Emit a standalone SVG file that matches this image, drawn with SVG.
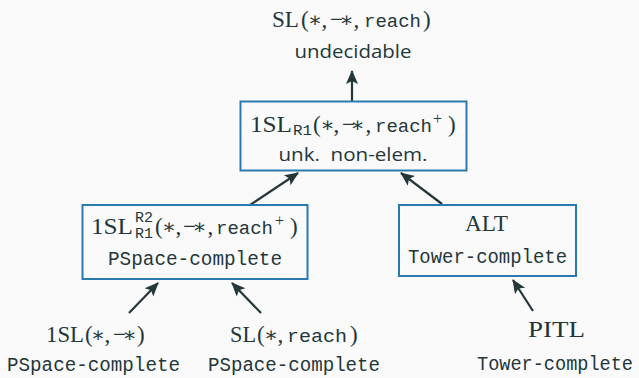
<svg xmlns="http://www.w3.org/2000/svg" width="639" height="378" viewBox="0 0 639 378">
<defs>
<marker id="ah" markerUnits="userSpaceOnUse" markerWidth="16" markerHeight="16" viewBox="0 0 16 16" refX="14" refY="8" orient="auto">
<path d="M1,2 L15,8 L1,14 L4,8 Z" fill="#23373b"/>
</marker>
<style>
.bg{fill:#fafafa}
.box{fill:#fafafa;stroke:#2a7ab0;stroke-width:2}
.m{font-family:"Liberation Serif","DejaVu Serif",serif;font-size:23px;fill:#23373b}
.st{font-family:"DejaVu Serif",serif;font-size:21px;fill:#23373b;text-anchor:middle}
.tt{font-family:"Liberation Mono","DejaVu Sans Mono",monospace;font-size:19px;fill:#23373b}
.sm{font-family:"Liberation Mono","DejaVu Sans Mono",monospace;font-size:14px;fill:#23373b}
.sup{font-family:"Liberation Serif","DejaVu Serif",serif;font-size:16px;fill:#23373b}
.sf{font-family:"Open Sans","Noto Sans",sans-serif;font-size:19px;fill:#23373b;white-space:pre}
.lbl{font-family:"Liberation Mono","DejaVu Sans Mono",monospace;font-size:20px;fill:#23373b}
.ar{stroke:#23373b;stroke-width:2.2;fill:none;marker-end:url(#ah)}
</style>
</defs>
<rect class="bg" x="0" y="0" width="639" height="378"/>

<g id="connectors">
<line class="ar" x1="352" y1="101" x2="352" y2="71"/>
<line class="ar" x1="250" y1="205" x2="298" y2="173"/>
<line class="ar" x1="442" y1="204" x2="401" y2="173"/>
<line class="ar" x1="129" y1="313" x2="158" y2="283"/>
<line class="ar" x1="261" y1="313" x2="232" y2="283"/>
<line class="ar" x1="533" y1="311" x2="513" y2="280"/>
</g>

<g id="n_sl_top">
<text class="m" x="272" y="27" textLength="27" lengthAdjust="spacingAndGlyphs">SL</text>
<text class="m" y="27"><tspan x="301">(</tspan><tspan x="321.5">,</tspan><tspan x="330">−</tspan><tspan x="353.5">,</tspan></text>
<text class="st" y="27"><tspan x="315">∗</tspan><tspan x="346.5">∗</tspan></text>
<text class="tt" x="364" y="27" textLength="57" lengthAdjust="spacingAndGlyphs">reach</text>
<text class="m" x="423" y="27">)</text>
<text class="sf" x="353" y="58" text-anchor="middle" textLength="117" lengthAdjust="spacingAndGlyphs">undecidable</text>
</g>

<g id="n_r1">
<rect class="box" x="240.5" y="101.5" width="226" height="69"/>
<text class="m" x="250" y="132" textLength="42" lengthAdjust="spacingAndGlyphs">1SL</text>
<text class="sm" x="293" y="135" textLength="19" lengthAdjust="spacingAndGlyphs">R1</text>
<text class="m" y="132"><tspan x="313">(</tspan><tspan x="333.5">,</tspan><tspan x="342">−</tspan><tspan x="365.5">,</tspan></text>
<text class="st" y="132"><tspan x="327.5">∗</tspan><tspan x="357.5">∗</tspan></text>
<text class="tt" x="375" y="132" textLength="57" lengthAdjust="spacingAndGlyphs">reach</text>
<text class="sup" x="433" y="124">+</text>
<text class="m" x="448" y="132">)</text>
<text class="sf" x="353" y="161" text-anchor="middle" textLength="149" lengthAdjust="spacingAndGlyphs">unk.  non-elem.</text>
</g>

<g id="n_r2">
<rect class="box" x="82.5" y="205" width="225" height="74"/>
<text class="m" x="91" y="234" textLength="42" lengthAdjust="spacingAndGlyphs">1SL</text>
<text class="sm" x="135" y="222" textLength="18" lengthAdjust="spacingAndGlyphs">R2</text>
<text class="sm" x="135" y="238" textLength="18" lengthAdjust="spacingAndGlyphs">R1</text>
<text class="m" y="234"><tspan x="155">(</tspan><tspan x="175.5">,</tspan><tspan x="183">−</tspan><tspan x="207.5">,</tspan></text>
<text class="st" y="234"><tspan x="169">∗</tspan><tspan x="199.5">∗</tspan></text>
<text class="tt" x="216" y="234" textLength="57" lengthAdjust="spacingAndGlyphs">reach</text>
<text class="sup" x="275" y="226">+</text>
<text class="m" x="290" y="234">)</text>
<text class="lbl" x="108" y="265" textLength="174" lengthAdjust="spacingAndGlyphs">PSpace-complete</text>
</g>

<g id="n_alt">
<rect class="box" x="399" y="205" width="177" height="71"/>
<text class="m" x="465" y="231" textLength="43" lengthAdjust="spacingAndGlyphs">ALT</text>
<text class="lbl" x="408" y="263" textLength="159" lengthAdjust="spacingAndGlyphs">Tower-complete</text>
</g>

<g id="n_1sl">
<text class="m" x="46" y="342" textLength="38" lengthAdjust="spacingAndGlyphs">1SL</text>
<text class="m" y="342"><tspan x="85">(</tspan><tspan x="104.5">,</tspan><tspan x="113">−</tspan><tspan x="137">)</tspan></text>
<text class="st" y="342"><tspan x="98">∗</tspan><tspan x="129.5">∗</tspan></text>
<text class="lbl" x="7" y="371" textLength="173" lengthAdjust="spacingAndGlyphs">PSpace-complete</text>
</g>

<g id="n_slreach">
<text class="m" x="230" y="342" textLength="26" lengthAdjust="spacingAndGlyphs">SL</text>
<text class="m" y="342"><tspan x="257">(</tspan><tspan x="277.5">,</tspan></text>
<text class="st" x="271" y="342">∗</text>
<text class="tt" x="287" y="342" textLength="60" lengthAdjust="spacingAndGlyphs">reach</text>
<text class="m" x="350" y="342">)</text>
<text class="lbl" x="208" y="371" textLength="172" lengthAdjust="spacingAndGlyphs">PSpace-complete</text>
</g>

<g id="n_pitl">
<text class="m" x="528" y="337" textLength="57" lengthAdjust="spacingAndGlyphs">PITL</text>
<text class="lbl" x="477" y="370" textLength="156" lengthAdjust="spacingAndGlyphs">Tower-complete</text>
</g>
</svg>
